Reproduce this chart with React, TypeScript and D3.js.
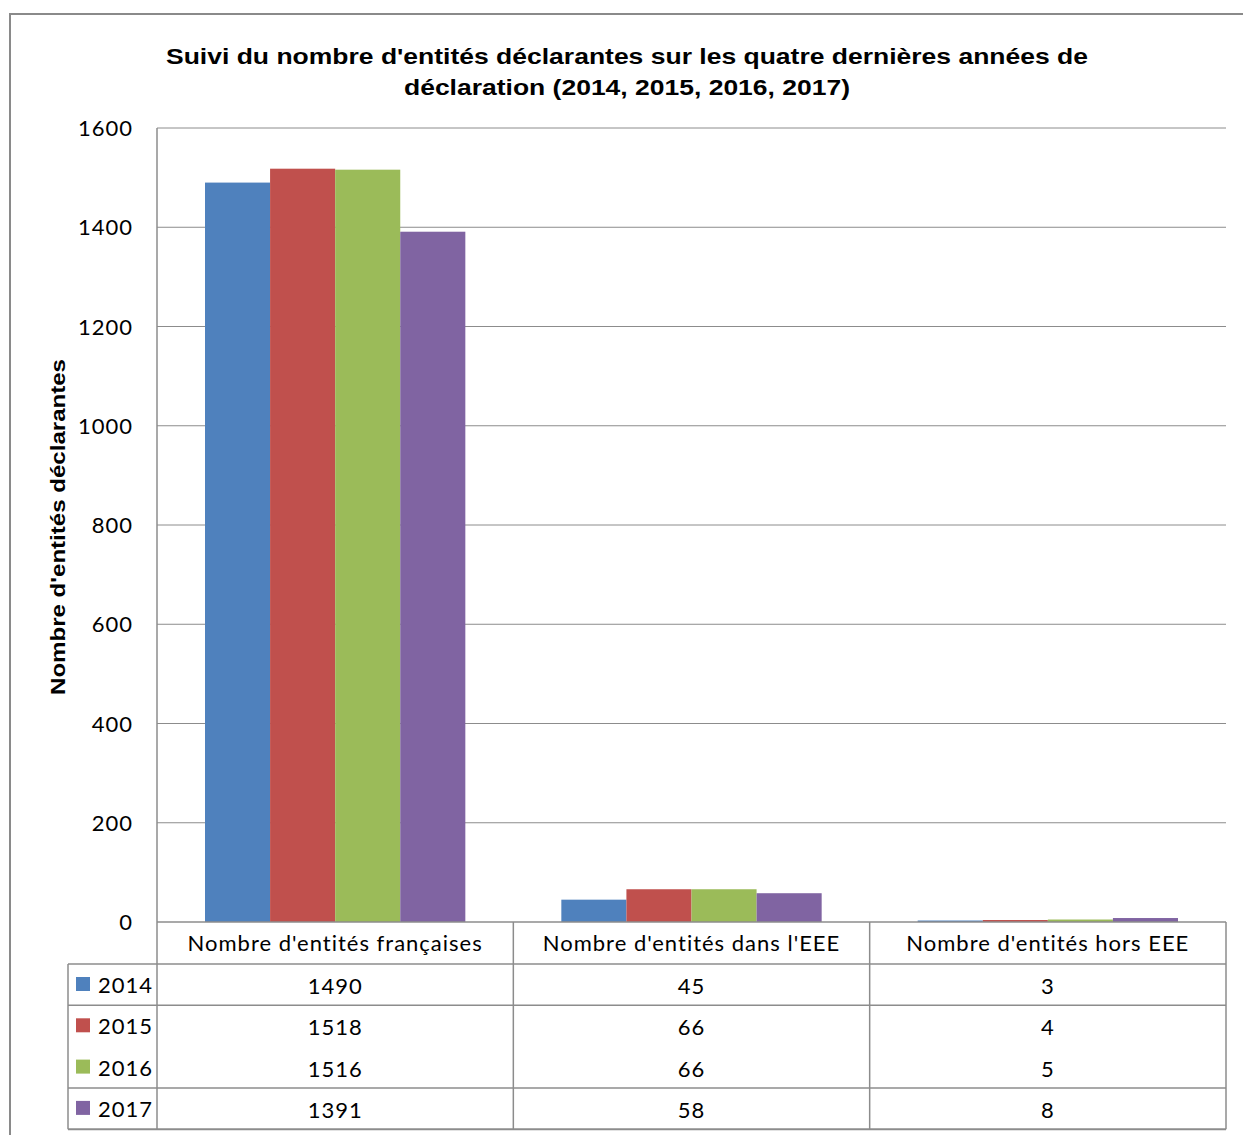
import React from "react";
import * as d3 from "d3";

const categories = [
  "Nombre d'entités françaises",
  "Nombre d'entités dans l'EEE",
  "Nombre d'entités hors EEE",
];
const years = ["2014", "2015", "2016", "2017"];
const values2014 = [1490, 45, 3];
const values2015 = [1518, 66, 4];
const values2016 = [1516, 66, 5];
const values2017 = [1391, 58, 8];
const seriesValues = [values2014, values2015, values2016, values2017];
const colors = ["#4F81BD", "#C0504D", "#9BBB59", "#8064A2"];
const yTicks = [0, 200, 400, 600, 800, 1000, 1200, 1400, 1600];
const titleLines = [
  "Suivi du nombre d'entités déclarantes sur les quatre dernières années de",
  "déclaration (2014, 2015, 2016, 2017)",
];
const yLabel = "Nombre d'entités déclarantes";

export default function App() {
  const W = 1243, H = 1135;
  const left = 157, right = 1226, top = 128, bottom = 922;
  const y = d3.scaleLinear().domain([0, 1600]).range([bottom, top]);
  const x0 = d3.scaleBand().domain(categories).range([left, right]).paddingInner(0).paddingOuter(0);
  const innerPad = 48;
  const x1 = d3.scaleBand().domain(years).range([innerPad, x0.bandwidth() - innerPad]).padding(0);
  const rowH = 41.3;
  const headerBottom = 964;
  const legendLeft = 68;
  const grid = "#8c8c8c";
  const tableFont = "Lato, 'Open Sans', sans-serif";
  const boldFont = "'Liberation Sans', Arial, sans-serif";
  const fs = 22;
  const ls = 1;
  const rowY = (i: number) => headerBottom + i * rowH;
  const tableBottom = rowY(4);
  return (
    <svg width={W} height={H} style={{ position: "absolute", left: 0, top: 0, background: "#fff" }}>
      <rect x={0} y={0} width={W} height={H} fill="#fff" />
      <rect x={10} y={14} width={W + 20} height={H + 20} fill="none" stroke="#8a8a8a" strokeWidth={2} />
      {titleLines.map((t, i) => (
        <text key={i} x={627} y={64 + i * 31} textAnchor="middle" fontFamily={boldFont} fontWeight="bold" fontSize={22} fill="#000" textLength={i === 0 ? 922 : 446} lengthAdjust="spacingAndGlyphs">{t}</text>
      ))}
      {yTicks.map((t) => (
        <g key={t}>
          {t > 0 && <line x1={left} x2={right} y1={y(t)} y2={y(t)} stroke={grid} strokeWidth={1} />}
          <text x={133} y={y(t) + 8} textAnchor="end" fontFamily={tableFont} fontSize={fs} letterSpacing={ls} fill="#000">{t}</text>
        </g>
      ))}
      <text transform={`translate(65,527) rotate(-90)`} textAnchor="middle" fontFamily={boldFont} fontWeight="bold" fontSize={21} fill="#000" textLength={336} lengthAdjust="spacingAndGlyphs">{yLabel}</text>
      {categories.map((c, ci) => (
        <g key={c} transform={`translate(${x0(c)},0)`}>
          {years.map((yr, si) => {
            const v = seriesValues[si][ci];
            return (
              <rect key={yr} x={x1(yr)} y={y(v)} width={x1.bandwidth()} height={bottom - y(v)} fill={colors[si]} />
            );
          })}
        </g>
      ))}
      <line x1={left} x2={left} y1={top} y2={tableBottom} stroke={grid} strokeWidth={1.5} />
      <line x1={left} x2={right} y1={bottom} y2={bottom} stroke={grid} strokeWidth={1.5} />
      {[0, 1, 3, 4].map((i) => (
        <line key={i} x1={legendLeft} x2={right} y1={rowY(i)} y2={rowY(i)} stroke={grid} strokeWidth={i === 4 ? 2 : 1.5} />
      ))}
      <line x1={legendLeft} x2={legendLeft} y1={headerBottom} y2={tableBottom} stroke={grid} strokeWidth={1.5} />
      {categories.map((c) => (
        <line key={c} x1={(x0(c) as number) + x0.bandwidth()} x2={(x0(c) as number) + x0.bandwidth()} y1={bottom} y2={tableBottom} stroke={grid} strokeWidth={1.5} />
      ))}
      {categories.map((c) => (
        <text key={c} x={(x0(c) as number) + x0.bandwidth() / 2} y={bottom + 29} textAnchor="middle" fontFamily={tableFont} fontSize={fs} letterSpacing={ls} fill="#000">{c}</text>
      ))}
      {years.map((yr, si) => (
        <g key={yr}>
          <rect x={76} y={rowY(si) + 13} width={14} height={14} fill={colors[si]} />
          <text x={98} y={rowY(si) + 29} fontFamily={tableFont} fontSize={fs} letterSpacing={ls} fill="#000">{yr}</text>
          {categories.map((c, ci) => (
            <text key={c} x={(x0(c) as number) + x0.bandwidth() / 2} y={rowY(si) + 30} textAnchor="middle" fontFamily={tableFont} fontSize={fs} letterSpacing={ls} fill="#000">{seriesValues[si][ci]}</text>
          ))}
        </g>
      ))}
    </svg>
  );
}
